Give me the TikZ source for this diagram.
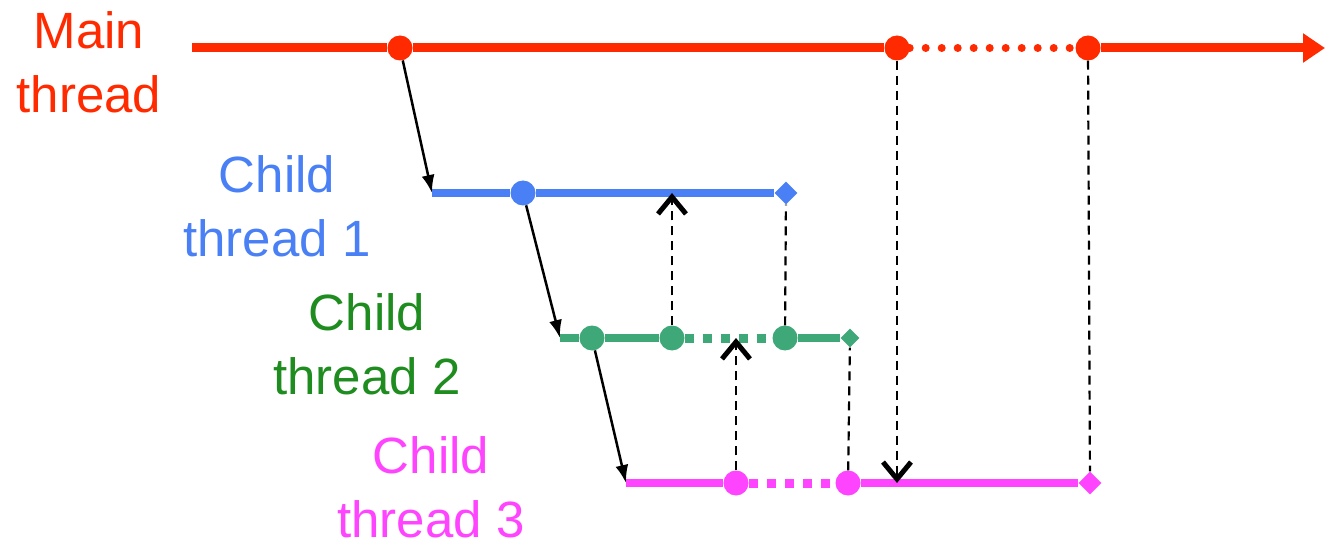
\documentclass[tikz,border=0pt]{standalone}
\usepackage{fontspec}
\setmainfont{Liberation Sans}
\usetikzlibrary{arrows.meta,shapes.geometric}
\definecolor{mred}{HTML}{FF2A00}
\definecolor{cblue}{HTML}{4A80F5}
\definecolor{cgreen}{HTML}{3FA878}
\definecolor{tgreen}{HTML}{1E8C1E}
\definecolor{cmag}{HTML}{FF44FF}
\begin{document}
\begin{tikzpicture}[x=1pt,y=-1pt,
  dot/.style={circle, fill, inner sep=0pt, minimum size=25pt},
  endmark/.style={diamond, fill, inner sep=0pt, minimum size=23pt},
  lbl/.style={font=\fontsize{51}{64}\selectfont, align=center, anchor=base, inner sep=0pt},
  spawn/.style={draw=black, line width=2.5pt, -{Latex[length=18pt,width=13pt]}},
  sync/.style={draw=black, line width=2.2pt, dash pattern=on 9pt off 6pt},
  syncarrow/.style={sync, -{Straight Barb[length=17pt,width=28pt,line width=5pt]}},
  thick/.style={line width=8pt},
  dotsq/.style={line width=9pt, dash pattern=on 9pt off 9pt},
  dotrd/.style={line width=8pt, dash pattern=on 0pt off 16pt, line cap=round}]
\useasboundingbox (0,0) rectangle (1326,548);
% coordinates
\coordinate (ms) at (192,48);
\coordinate (me) at (1325,48);
\coordinate (b0) at (432,193);
\coordinate (bt) at (672,193);
\coordinate (g0) at (560,338);
\coordinate (gt) at (736,338);
\coordinate (p0) at (626,483);
\coordinate (pt) at (897,483);
% dots and end marks
\node[dot, mred] (m1) at (400,48) {};
\node[dot, mred] (m2) at (897,48) {};
\node[dot, mred] (m3) at (1088,48) {};
\node[dot, cblue] (b1) at (523,193) {};
\node[endmark, cblue] (bd) at (786,193) {};
\node[dot, cgreen] (g1) at (592,338) {};
\node[dot, cgreen] (g2) at (672,338) {};
\node[dot, cgreen] (g3) at (785,338) {};
\node[endmark, cgreen, minimum size=19pt] (gd) at (850,338) {};
\node[dot, cmag] (p1) at (736,483) {};
\node[dot, cmag] (p2) at (848,483) {};
\node[endmark, cmag] (pd) at (1090,483) {};
% thread lines
\draw[mred, line width=9pt] (ms) -- (m1) -- (m2);
\draw[mred, dotrd] (m2) -- (m3);
\draw[mred, line width=9pt, -{Triangle[length=22pt,width=28pt]}] (m3) -- (me);
\draw[cblue, thick] (b0) -- (b1) -- (bd);
\draw[cgreen, thick] (g0) -- (g1) -- (g2);
\draw[cgreen, dotsq] (g2) -- (g3);
\draw[cgreen, thick] (g3) -- (gd);
\draw[cmag, thick] (p0) -- (p1);
\draw[cmag, dotsq] (p1) -- (p2);
\draw[cmag, thick] (p2) -- (pd);
% spawn arrows
\draw[spawn] (m1) -- (b0);
\draw[spawn] (b1) -- (g0);
\draw[spawn] (g1) -- (p0);
% sync lines
\draw[syncarrow] (g2) -- (bt);
\draw[sync] (g3) -- (bd);
\draw[syncarrow] (p1) -- (gt);
\draw[sync] (p2) -- (gd);
\draw[syncarrow] (m2) -- (pt);
\draw[sync] (m3) -- (pd);
% labels
\node[lbl, text=mred] (lm) at (89,113) {Main\\thread};
\node[lbl, text=cblue] (lb) at (277,257) {Child\\thread 1};
\node[lbl, text=tgreen] (lg) at (367,394) {Child\\thread 2};
\node[lbl, text=cmag] (lp) at (431,537) {Child\\thread 3};
\end{tikzpicture}
\end{document}
